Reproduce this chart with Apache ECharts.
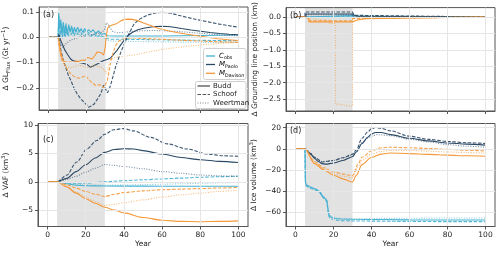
<!DOCTYPE html>
<html><head><meta charset="utf-8">
<script src="https://cdn.jsdelivr.net/npm/echarts@6/dist/echarts.min.js"></script>
<style>html,body{margin:0;padding:0;background:#fff}#c{width:500px;height:253px}</style>
</head><body><div id="c"></div>
<script>
// ---------- tick values ----------
const xTicks = [0, 20, 40, 60, 80, 100];
const aTicks = [-0.2, -0.1, 0, 0.1];
const bTicks = [-2.5, -2, -1.5, -1, -0.5, 0];
const cTicks = [-5, 0, 5, 10];
const dTicks = [-60, -40, -20, 0, 20];
const shadeYears = [5, 30];

// ---------- panel (a): Δ GL flux (Gt/yr), [year, value] ----------
const a_obs_budd = [[0,0],[5,0],[5.3,0.1],[5.8,0.03],[6.4,0.07],[7.0,0.01],[7.7,0.06],[8.4,0.005],[9.1,0.055],[9.8,0.01],[10.6,0.05],[11.3,0.02],[12.1,0.045],[12.8,0.015],[13.6,0.04],[14.4,0.02],[15.3,0.04],[16.2,0.02],[17.1,0.035],[18.0,0.02],[19.0,0.035],[20.0,0.02],[21.0,0.03],[22.2,0.02],[23.4,0.03],[24.8,0.015],[26.2,0.025],[27.8,0.012],[29.5,0.015],[31,0.006],[35,0.005],[40,0.005],[50,0.005],[60,0.005],[70,0.006],[80,0.007],[90,0.008],[100,0.009]];
const a_obs_schoof = [[0,0],[5,0],[5.4,0.085],[6.0,0.0],[6.6,0.055],[7.3,-0.005],[8.0,0.05],[8.7,0.0],[9.4,0.04],[10.2,0.005],[11.0,0.04],[11.8,0.01],[12.6,0.035],[13.5,0.005],[14.4,0.03],[15.4,0.01],[16.4,0.03],[17.5,0.01],[18.6,0.025],[19.8,0.005],[21,0.02],[22.5,0.005],[24,0.015],[25.5,0.0],[27,0.01],[29,0.0],[30.5,-0.005],[33,-0.008],[40,-0.008],[50,-0.009],[60,-0.01],[70,-0.011],[80,-0.012],[90,-0.013],[100,-0.013]];
const a_obs_weert = [[0,0],[5,0],[5.5,0.06],[6.2,0.01],[6.9,0.045],[7.6,0.0],[8.3,0.04],[9.0,-0.005],[9.8,0.035],[10.6,0.0],[11.5,0.03],[12.4,0.005],[13.3,0.03],[14.3,0.01],[15.3,0.025],[16.5,0.005],[17.7,0.02],[19,0.0],[20.5,0.015],[22,0.0],[24,0.01],[26,0.0],[28,0.005],[30,-0.01],[33,-0.015],[40,-0.016],[50,-0.017],[60,-0.018],[80,-0.02],[100,-0.02]];
const a_pao_budd = [[0,0],[5,0],[5.5,0.012],[6.2,-0.01],[7.4,-0.03],[8.5,-0.05],[10,-0.068],[11.5,-0.085],[12.6,-0.092],[14,-0.095],[16,-0.1],[18,-0.103],[20.4,-0.108],[22,-0.119],[23.5,-0.114],[25.6,-0.106],[27.5,-0.098],[29,-0.092],[30,-0.09],[31,-0.088],[32.6,-0.082],[34,-0.07],[36,-0.052],[38,-0.03],[39.6,-0.013],[42,0.008],[44,0.019],[47,0.03],[50,0.036],[55,0.042],[59,0.044],[63,0.043],[66,0.04],[70,0.035],[75,0.029],[80,0.024],[85,0.019],[90,0.015],[95,0.012],[100,0.01]];
const a_pao_schoof = [[0,0],[5,0],[5.5,-0.01],[6.5,-0.052],[7.7,-0.09],[9,-0.119],[10.3,-0.148],[11.7,-0.171],[13.3,-0.2],[15,-0.224],[16.8,-0.243],[18.6,-0.257],[20,-0.268],[21,-0.277],[22.5,-0.272],[24,-0.264],[25.7,-0.245],[27.4,-0.224],[29,-0.19],[30,-0.205],[31,-0.22],[32,-0.205],[33,-0.18],[35.2,-0.119],[37,-0.08],[38.4,-0.052],[40.5,-0.015],[42,0.01],[45,0.053],[48,0.072],[52,0.088],[56,0.096],[60,0.099],[64,0.096],[68,0.088],[73,0.079],[78,0.07],[84,0.061],[90,0.052],[95,0.046],[100,0.04]];
const a_pao_weert = [[0,0],[5,0],[5.6,-0.01],[6.5,-0.03],[7.5,-0.04],[8.5,-0.03],[10,-0.02],[12,-0.01],[14,-0.005],[16,0.0],[18,0.005],[20,0.008],[22,0.01],[24,0.012],[26,0.015],[28,0.02],[29.5,0.03],[30.5,0.058],[31.5,0.05],[32.5,0.035],[34,0.022],[36,0.018],[40,0.02],[45,0.024],[50,0.026],[55,0.027],[60,0.026],[70,0.022],[80,0.016],[90,0.01],[100,0.006]];
const a_dav_budd = [[0,0],[5,0],[5.5,-0.015],[6,-0.046],[7,-0.08],[8,-0.095],[9,-0.099],[10,-0.1],[11.5,-0.098],[13,-0.1],[14.5,-0.094],[16,-0.096],[17.5,-0.09],[19,-0.092],[20.5,-0.08],[21.5,-0.076],[23,-0.086],[24.5,-0.07],[25.6,-0.058],[27.4,-0.06],[29,-0.07],[29.8,-0.04],[30.3,0.0],[31,0.035],[32,0.045],[34,0.05],[36,0.055],[38,0.065],[40,0.071],[42,0.072],[44,0.071],[47,0.066],[50,0.057],[54,0.046],[58,0.035],[63,0.026],[68,0.018],[73,0.012],[80,0.004],[89,-0.006],[95,-0.01],[100,-0.013]];
const a_dav_schoof = [[0,0],[5,0],[5.5,-0.03],[6.5,-0.079],[7.7,-0.1],[9,-0.115],[10,-0.13],[12,-0.148],[14,-0.158],[16,-0.162],[17.5,-0.158],[19.4,-0.152],[21,-0.165],[22.5,-0.178],[24.7,-0.19],[26.5,-0.188],[28,-0.19],[29,-0.2],[30,-0.185],[31,-0.17],[32.6,-0.1],[34,-0.06],[35.5,-0.03],[37,-0.015],[38,-0.01],[40,-0.005],[45,-0.002],[50,-0.005],[60,-0.008],[70,-0.012],[80,-0.015],[90,-0.018],[100,-0.02]];
const a_dav_weert = [[0,0],[5,0],[5.5,-0.04],[6.5,-0.08],[7.5,-0.1],[8.5,-0.11],[10,-0.118],[12,-0.12],[14,-0.115],[16,-0.11],[18,-0.115],[20,-0.12],[22,-0.118],[24,-0.11],[26,-0.115],[28,-0.12],[29.5,-0.13],[30.3,-0.145],[31,-0.13],[32,-0.1],[33,-0.085],[35,-0.08],[40,-0.075],[45,-0.07],[50,-0.062],[55,-0.055],[60,-0.048],[70,-0.038],[80,-0.03],[90,-0.024],[100,-0.02]];

// ---------- panel (b): Δ grounding line position (km) ----------
const b_obs_budd = [[0,0],[5,0],[5,0.04],[30,0.04],[30,0.02],[32,0.02],[32,0],[100,0]];
const b_obs_schoof = [[0,0],[5.2,0],[5.2,0.03],[30.5,0.03],[30.5,0],[100,0]];
const b_obs_weert = [[0,0],[5.2,0],[5.2,0.02],[30,0.02],[30,0],[100,0]];
const b_pao_budd = [[0,0],[5.5,0],[5.5,0.09],[29.8,0.09],[29.8,0.05],[31,0.05],[31,0.02],[33,0.02],[33,0],[100,0]];
const b_pao_schoof = [[0,0],[5,0],[5,0.15],[30,0.15],[30,0.1],[30.8,0.1],[30.8,0.05],[32,0.05],[32,0],[100,0]];
const b_pao_weert = [[0,0],[5.5,0],[5.5,0.07],[30,0.07],[30,0],[100,0]];
const b_dav_budd = [[0,0],[5,0],[5,-0.05],[7,-0.05],[7,-0.15],[30,-0.15],[30,-0.1],[32,-0.1],[32,-0.05],[37,-0.05],[37,0],[100,0]];
const b_dav_schoof = [[0,0],[5,0],[5,-0.05],[7.5,-0.05],[7.5,-0.12],[30,-0.12],[30,-0.05],[33,-0.05],[33,0],[100,0]];
const b_dav_weert = [[0,0],[5,0],[5,-0.05],[7,-0.05],[7,-0.1],[17.5,-0.1],[17.5,-0.2],[21,-0.2],[21,-2.65],[22.5,-2.65],[22.5,-2.68],[25.5,-2.68],[25.5,-2.72],[30,-2.72],[30,-0.1],[30.5,-0.1],[30.5,0],[100,0]];

// ---------- panel (c): Δ VAF (km^3) ----------
const c_obs_budd = [[0,0],[5,0],[10,-0.35],[15,-0.6],[20,-0.7],[30,-0.75],[50,-0.77],[70,-0.78],[100,-0.8]];
const c_obs_schoof = [[0,0],[5,0],[10,-0.2],[15,-0.27],[20,-0.25],[25,-0.12],[30,0.0],[40,0.2],[50,0.35],[60,0.5],[70,0.65],[80,0.8],[90,0.9],[100,1.0]];
const c_obs_weert = [[0,0],[5,0],[10,-0.3],[15,-0.45],[20,-0.55],[30,-0.6],[40,-0.58],[50,-0.5],[60,-0.43],[70,-0.35],[80,-0.27],[90,-0.18],[100,-0.1]];
const c_pao_budd = [[0,0],[5,0],[10,0.6],[15,1.8],[20,3.0],[25,4.2],[30,5.2],[35,5.7],[40,5.85],[45,5.8],[50,5.5],[60,4.9],[70,4.3],[80,3.9],[90,3.6],[100,3.4]];
const c_pao_schoof = [[0,0],[5,0],[10,1.16],[15.3,3.5],[20.6,5.8],[25.8,7.3],[30,8.4],[34.6,9.2],[39.9,9.4],[45,9.0],[54,7.85],[62.7,6.7],[73,5.8],[84,4.9],[92,4.6],[100,4.5]];
const c_pao_weert = [[0,0],[5,0],[10,0.4],[15,1.0],[20,1.7],[25,2.4],[30,3.05],[35,2.9],[40,2.7],[50,2.3],[60,1.8],[70,1.5],[80,1.2],[90,1.05],[100,0.95]];
const c_dav_budd = [[0,0],[5,0],[10,-0.9],[15,-2.0],[20,-3.0],[25,-3.8],[30,-4.5],[35,-5.0],[40,-5.5],[50,-6.3],[60,-6.8],[70,-7.0],[80,-7.05],[90,-7.0],[100,-6.9]];
const c_dav_schoof = [[0,0],[5,0],[10,-0.5],[15,-1.1],[20,-1.7],[25,-2.2],[30,-2.6],[35,-2.2],[40,-1.9],[50,-1.6],[60,-1.4],[70,-1.3],[80,-1.2],[90,-1.1],[100,-1.0]];
const c_dav_weert = [[0,0],[5,0],[10,-0.8],[15,-1.8],[20,-2.7],[25,-3.5],[30,-4.2],[35,-4.0],[40,-3.7],[50,-3.2],[60,-2.7],[70,-2.3],[80,-2.0],[90,-1.7],[100,-1.5]];

// ---------- panel (d): Δ ice volume (km^3) ----------
const d_obs_budd = [[0,0],[5,0],[5.2,-30],[5.5,-34],[6.5,-35.5],[8,-36.5],[9.5,-37.5],[11,-38.5],[12,-39],[13,-41],[13.8,-44],[14.5,-45.5],[15.5,-47],[16.5,-49],[17,-50],[17.3,-60],[17.8,-63.5],[19,-65],[21,-66],[24,-66.5],[30,-66.8],[40,-67],[60,-67.3],[80,-67.5],[100,-67.5]];
const d_obs_schoof = [[0,0],[5,0],[5.2,-31],[5.5,-35],[6.5,-36.5],[8,-37.5],[9.5,-38.5],[11,-39.5],[12,-40],[13,-42],[13.8,-45],[14.5,-46.5],[15.5,-48],[16.5,-50],[17,-51],[17.3,-62],[17.8,-65],[19,-66.5],[21,-67.5],[24,-68],[30,-68.3],[40,-68.5],[60,-68.8],[80,-69],[100,-69]];
const d_obs_weert = [[0,0],[5,0],[5.2,-29],[5.5,-33],[6.5,-35],[8,-36],[9.5,-37],[11,-38],[12,-38.5],[13,-40.5],[13.8,-43],[14.5,-45],[15.5,-46.5],[16.5,-48],[17,-49],[17.3,-58],[17.8,-62.5],[19,-64.5],[21,-65.5],[24,-66],[30,-66],[40,-66],[60,-65.8],[80,-65.5],[100,-65.5]];
const d_pao_budd = [[0,0],[5,0],[8,-5],[10,-9],[12,-12],[14,-14],[16,-14.5],[20,-13.5],[25,-11],[30,-7.5],[32,-3],[35,5],[38,11],[40,14],[42,15.5],[45,15.5],[50,13.5],[60,10],[70,7.5],[80,5.5],[90,4.5],[100,3.5]];
const d_pao_schoof = [[0,0],[5,0],[8,-4.5],[10,-8],[14,-12.5],[20,-11],[25,-8.5],[30,-5],[32,-1],[35,10],[38,16],[40,19],[42,20.2],[45,19.5],[50,17],[60,12],[70,9],[80,7],[90,5.8],[100,5]];
const d_pao_weert = [[0,0],[5,0],[8,-4.5],[10,-8],[14,-12],[20,-11],[25,-8.5],[30,-6],[32,-2],[35,6],[38,10],[40,12],[43,13.5],[50,12.5],[60,9],[70,6.5],[80,4],[90,2.5],[100,1.5]];
const d_dav_budd = [[0,0],[5,0],[10,-14],[15,-20],[20,-25],[25,-28.5],[30,-31.5],[32,-25],[35,-15],[40,-8],[45,-5],[50,-4],[60,-4.5],[70,-5.3],[80,-6],[90,-6.6],[100,-7]];
const d_dav_schoof = [[0,0],[5,0],[10,-12],[15,-18],[20,-22],[25,-24],[30,-25.5],[33,-14],[35,-8],[40,-2],[45,1],[50,1.5],[60,1],[70,0.3],[80,-0.5],[90,-1.3],[100,-2]];
const d_dav_weert = [[0,0],[5,0],[10,-13],[15,-19],[20,-24],[25,-26],[30,-27.5],[33,-17],[35,-11],[40,-5],[45,-2.5],[50,-1.5],[60,-1.5],[70,-2.2],[80,-3],[90,-3.5],[100,-4]];

// ---------- styling ----------
const COL = {obs:'#45b1d1', pao:'#2b4965', dav:'#f5993a'};
const LAW = {
  budd:  {type:'solid', opacity:1},
  schoof:{type:[3.5,1.6], opacity:0.92},
  weert: {type:[1,1.5], opacity:0.65}
};
const FONT = 'DejaVu Sans';

const panels = [
  {obs:[a_obs_budd,a_obs_schoof,a_obs_weert], pao:[a_pao_budd,a_pao_schoof,a_pao_weert], dav:[a_dav_budd,a_dav_schoof,a_dav_weert], smooth:false},
  {obs:[b_obs_budd,b_obs_schoof,b_obs_weert], pao:[b_pao_budd,b_pao_schoof,b_pao_weert], dav:[b_dav_budd,b_dav_schoof,b_dav_weert], smooth:false},
  {obs:[c_obs_budd,c_obs_schoof,c_obs_weert], pao:[c_pao_budd,c_pao_schoof,c_pao_weert], dav:[c_dav_budd,c_dav_schoof,c_dav_weert], smooth:true},
  {obs:[d_obs_budd,d_obs_schoof,d_obs_weert], pao:[d_pao_budd,d_pao_schoof,d_pao_weert], dav:[d_dav_budd,d_dav_schoof,d_dav_weert], smooth:true}
];

const grids = [
  {left:38, top:7, width:210, height:103},
  {left:286, top:7, width:209, height:104},
  {left:38, top:123.5, width:210, height:103},
  {left:286, top:123.5, width:209, height:103}
].map(g => Object.assign(g, {show:true, borderColor:'#555', borderWidth:1, backgroundColor:'transparent', z:10, containLabel:false}));

function fmt(dec){ return v => (v < -1e-9 ? '\u2212' : '') + Math.abs(v).toFixed(dec); }

const yCfg = [
  {min:-0.288, max:0.12, ticks:aTicks, dec:1, name:'{m|\u0394 GL}{s|Flux}{m| (Gt yr}{p|\u22121}{m|)}'},
  {min:-2.86, max:0.285, ticks:bTicks, dec:1, name:'\u0394 Grounding line position (km)'},
  {min:-7.9, max:10.3, ticks:cTicks, dec:0, name:'{m|\u0394 VAF (km}{p|3}{m|)}'},
  {min:-73.6, max:24, ticks:dTicks, dec:0, name:'{m|\u0394 Ice volume (km}{p|3}{m|)}'}
];

const richName = {
  m:{fontSize:7.5, fontFamily:FONT, color:'#222', lineHeight:11},
  s:{fontSize:5.5, fontFamily:FONT, color:'#222', verticalAlign:'bottom', lineHeight:11, padding:[4,0,0,0]},
  p:{fontSize:5.5, fontFamily:FONT, color:'#222', verticalAlign:'top', lineHeight:11, padding:[0,0,4,0]}
};

const xAxes = [0,1,2,3].map(i => ({
  gridIndex:i, type:'value', min:-5, max:105, z:10,
  axisLine:{show:true, onZero:false, lineStyle:{color:'#555', width:1}},
  axisTick:{show:true, length:3, customValues:xTicks, lineStyle:{color:'#555'}},
  axisLabel:{show:i>=2, customValues:xTicks, fontSize:7.5, fontFamily:FONT, color:'#222', margin:5},
  splitLine:{show:true, lineStyle:{color:'#e6e6e6', width:1}},
  name: i>=2 ? 'Year' : '', nameLocation:'middle', nameGap:14,
  nameTextStyle:{fontSize:7.5, fontFamily:FONT, color:'#222'}
}));

const yAxes = yCfg.map((c,i) => ({
  gridIndex:i, type:'value', min:c.min, max:c.max, z:10,
  axisLine:{show:true, onZero:false, lineStyle:{color:'#555', width:1}},
  axisTick:{show:true, length:3, customValues:c.ticks, lineStyle:{color:'#555'}},
  axisLabel:{show:true, customValues:c.ticks, formatter:fmt(c.dec), fontSize:7.5, fontFamily:FONT, color:'#222', margin:5},
  splitLine:{show:true, lineStyle:{color:'#e6e6e6', width:1}},
  name:c.name, nameLocation:'middle', nameRotate:90, nameGap:26,
  nameTextStyle:{fontSize:7.5, fontFamily:FONT, color:'#222', rich:richName}
}));

const series = [];
panels.forEach((p, gi) => {
  // shaded forcing period
  series.push({
    type:'line', xAxisIndex:gi, yAxisIndex:gi, data:[], silent:true, z:1,
    markArea:{silent:true, itemStyle:{color:'#e2e2e2'}, data:[[{xAxis:shadeYears[0]},{xAxis:shadeYears[1]}]]}
  });
  ['obs','pao','dav'].forEach(k => {
    ['budd','schoof','weert'].forEach((law, li) => {
      series.push({
        type:'line', xAxisIndex:gi, yAxisIndex:gi, data:p[k][li],
        showSymbol:false, symbol:'none', silent:true, z:3,
        smooth: (p.smooth && !(k==='obs' && gi===3)) ? 0.3 : false,
        smoothMonotone:'x',
        lineStyle:{color:COL[k], width:1.1, type:LAW[law].type, opacity:LAW[law].opacity}
      });
    });
  });
});

// legend (drawn as graphics inside panel a)
const lg = [];
lg.push({type:'rect', shape:{x:203.5, y:48.5, width:42.5, height:31, r:2}, style:{fill:'rgba(255,255,255,0.85)', stroke:'#cfcfcf', lineWidth:1}, z:20});
lg.push({type:'rect', shape:{x:195.5, y:81.5, width:50.5, height:27, r:2}, style:{fill:'rgba(255,255,255,0.85)', stroke:'#cfcfcf', lineWidth:1}, z:20});
const richLeg = {
  i:{fontSize:7, fontFamily:FONT, fontStyle:'italic', color:'#222'},
  s:{fontSize:4.8, fontFamily:FONT, color:'#222', verticalAlign:'bottom', padding:[4,0,0,0]}
};
[['C','obs',COL.obs,56],['M','Paolo',COL.pao,64.5],['M','Davison',COL.dav,73.3]].forEach(([a,b,c,y]) => {
  lg.push({type:'line', shape:{x1:206, y1:y, x2:215, y2:y}, style:{stroke:c, lineWidth:1.3}, z:21});
  lg.push({type:'text', x:219, y:y, style:{text:'{i|'+a+'}{s|'+b+'}', rich:richLeg, verticalAlign:'middle', align:'left'}, z:21});
});
[['Budd','budd',86],['Schoof','schoof',94.5],['Weertman','weert',103]].forEach(([t,law,y]) => {
  lg.push({type:'line', shape:{x1:197.5, y1:y, x2:210, y2:y}, style:{stroke:'#444', lineWidth:1.2, lineDash: law==='budd'?null:LAW[law].type, opacity:LAW[law].opacity}, z:21});
  lg.push({type:'text', x:213, y:y, style:{text:t, fontSize:7, fontFamily:FONT, fill:'#222', verticalAlign:'middle', align:'left'}, z:21});
});
// panel letters
[['(a)',43,15],['(b)',290,16],['(c)',43,140],['(d)',290,131]].forEach(([t,x,y]) => {
  lg.push({type:'text', x:x, y:y, style:{text:t, fontSize:8, fontFamily:FONT, fill:'#222', verticalAlign:'middle', align:'left'}, z:21});
});

const chart = echarts.init(document.getElementById('c'), null, {renderer:'canvas'});
chart.setOption({
  animation:false,
  backgroundColor:'#fff',
  grid:grids, xAxis:xAxes, yAxis:yAxes, series:series, graphic:lg
});
</script></body></html>
